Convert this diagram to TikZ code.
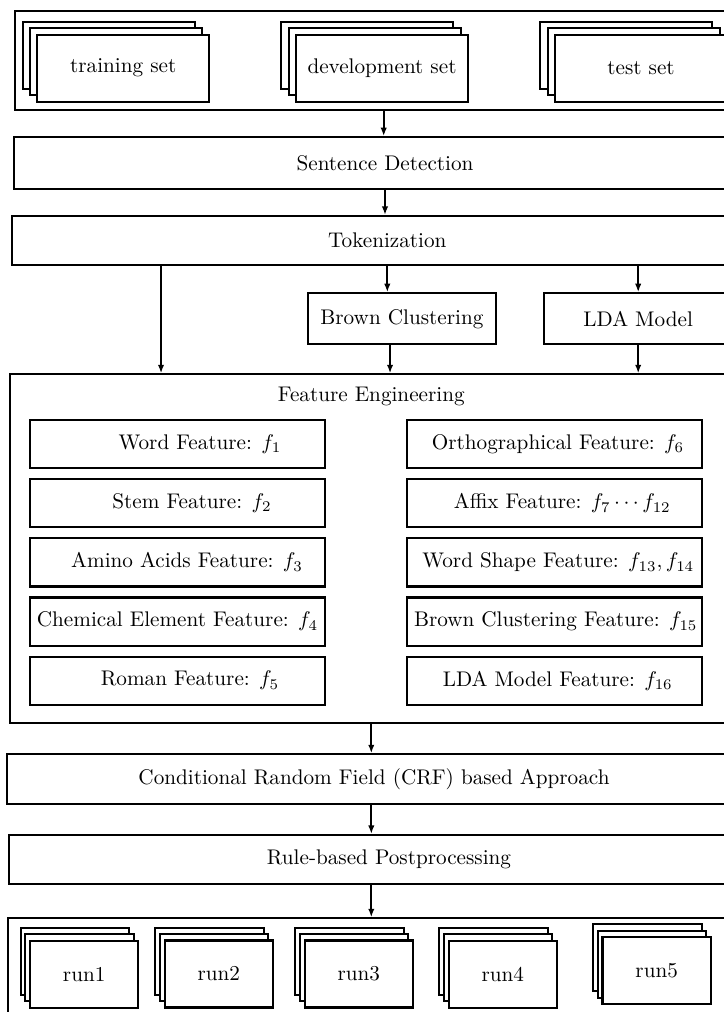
\documentclass[tikz,border=0pt]{standalone}
\usepackage{tikz}
\usetikzlibrary{positioning,arrows.meta,shadows}

\begin{document}
\begin{tikzpicture}[x=0.472pt, y=-0.472pt,
	box/.style={draw, line width=1pt, fill=white},
	arr/.style={line width=1pt, -{Latex[length=4pt,width=3pt]}},
	setpile/.style={box, minimum width=81.2pt, minimum height=31.6pt,
		general shadow={draw, line width=1pt, fill=white, shadow xshift=-6.9pt, shadow yshift=6.1pt},
		general shadow={draw, line width=1pt, fill=white, shadow xshift=-3.45pt, shadow yshift=3.05pt}},
	runpile/.style={box, minimum width=51.2pt, minimum height=31.6pt,
		general shadow={draw, line width=1pt, fill=white, shadow xshift=-4.4pt, shadow yshift=6.1pt},
		general shadow={draw, line width=1pt, fill=white, shadow xshift=-2.2pt, shadow yshift=3.05pt}},
	feat/.style={box, inner xsep=1pt, minimum width=139.2pt, minimum height=22.7pt, execute at begin node={\hspace*{#1}}},
	feat/.default=0pt]
	\path[use as bounding box, clip] (0,0) rectangle (724,1012);

	% data sets
	\node[box, minimum width=348pt, minimum height=46.7pt] (data) at (383.7,60.5) {};
	\node[setpile] (train) at (123.2,68.2) {training set};
	\node[setpile] (dev) at (382,68.2) {development set};
	\node[setpile] (test) at (641,68.2) {test set};

	% preprocessing
	\node[box, minimum width=350.2pt, minimum height=24.5pt] (sent) at (385,163.2) {Sentence Detection};
	\node[box, minimum width=354pt, minimum height=23.1pt] (tok) at (387.3,240.5) {Tokenization};
	\node[box, minimum width=88.8pt, minimum height=24.1pt] (brown) at (401.9,318.8) {Brown Clustering};
	\node[box, minimum width=88.8pt, minimum height=24.1pt] (lda) at (638.2,318.8) {LDA Model};

	% features
	\node[box, minimum width=341.1pt, minimum height=164.4pt] (fe) at (371.3,548.5) {};
	\node[below=3pt of fe.north] (fetitle) {Feature Engineering};
	\node[feat=21.2pt] (f1) at (177.5,444.2) {Word Feature: $f_1$};
	\node[feat=13.7pt, below=4.2pt of f1] (f2) {Stem Feature: $f_2$};
	\node[feat=9pt, below=4.2pt of f2] (f3) {Amino Acids Feature: $f_3$};
	\node[feat, below=4.2pt of f3] (f4) {Chemical Element Feature: $f_4$};
	\node[feat=11.8pt, below=4.2pt of f4] (f5) {Roman Feature: $f_5$};
	\node[feat=3pt] (f6) at (554.8,444.2) {Orthographical Feature: $f_6$};
	\node[feat=7.1pt, below=4.2pt of f6] (f7) {Affix Feature: $f_7\cdots f_{12}$};
	\node[feat=3.3pt, below=4.2pt of f7] (f13) {Word Shape Feature: $f_{13}, f_{14}$};
	\node[feat=0.9pt, below=4.2pt of f13] (f15) {Brown Clustering Feature: $f_{15}$};
	\node[feat=2.8pt, below=4.2pt of f15] (f16) {LDA Model Feature: $f_{16}$};

	% model and output
	\node[box, minimum width=346.7pt, minimum height=23.6pt] (crf) at (374,779.3) {Conditional Random Field (CRF) based Approach};
	\node[box, minimum width=358.7pt, minimum height=23.3pt] (rule) at (389,859.7) {Rule-based Postprocessing};
	\node[box, minimum width=342.7pt, minimum height=52.7pt] (runs) at (371.3,974.2) {};
	\node[runpile] (run1) at (84.2,974.2) {run1};
	\node[runpile] (run2) at (218.8,974) {run2};
	\node[runpile] (run3) at (358.8,974) {run3};
	\node[runpile] (run4) at (502.8,974.2) {run4};
	\node[runpile] (run5) at (656.7,970.8) {run5};

	% connectors
	\coordinate (tokl) at ([xshift=70.7pt]tok.south west);
	\coordinate (brl) at ([xshift=-5.6pt]brown.south);
	\draw[arr] (data.south) -- (data.south |- sent.north);
	\draw[arr] (sent.south) -- (sent.south |- tok.north);
	\draw[arr] (tok.south) -- (tok.south |- brown.north);
	\draw[arr] (lda.north |- tok.south) -- (lda.north);
	\draw[arr] (tokl) -- (tokl |- fe.north);
	\draw[arr] (brl) -- (brl |- fe.north);
	\draw[arr] (lda.south) -- (lda.south |- fe.north);
	\draw[arr] (fe.south) -- (fe.south |- crf.north);
	\draw[arr] (crf.south -| runs.north) -- (rule.north -| runs.north);
	\draw[arr] (rule.south -| runs.north) -- (runs.north);
\end{tikzpicture}
\end{document}
